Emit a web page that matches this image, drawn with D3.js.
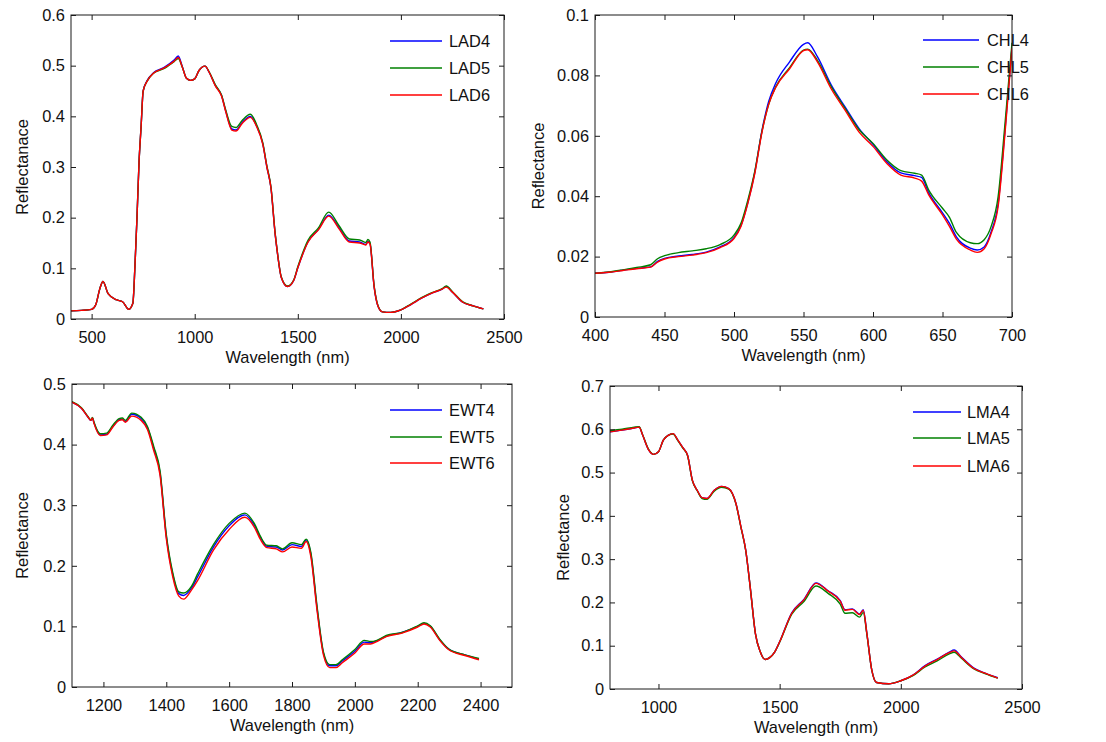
<!DOCTYPE html>
<html>
<head>
<meta charset="utf-8">
<script src="https://cdn.jsdelivr.net/npm/d3@7/dist/d3.min.js"></script>
<style>
  html, body { margin: 0; padding: 0; background: #fff; }
  svg { display: block; }
  text { font-family: "Liberation Sans", Arial, sans-serif; fill: #111; }
</style>
</head>
<body>
<svg id="chart" width="1106" height="742"></svg>
<script>
// ---------------- DATA ----------------
// Panel 1: LAD
const ladWl = [400,450,500,520,540,555,580,620,650,680,700,710,720,730,740,750,770,800,850,900,920,940,960,980,1000,1020,1050,1070,1100,1130,1150,1180,1200,1230,1270,1300,1330,1350,1370,1390,1400,1420,1450,1480,1500,1550,1600,1650,1700,1750,1800,1830,1840,1850,1870,1890,1910,1950,2000,2050,2100,2150,2200,2220,2250,2300,2350,2400];
const lad4 = [0.016,0.017,0.019,0.028,0.060,0.074,0.050,0.038,0.034,0.019,0.031,0.103,0.200,0.310,0.380,0.450,0.471,0.486,0.496,0.511,0.519,0.498,0.475,0.471,0.474,0.490,0.499,0.487,0.461,0.441,0.411,0.375,0.373,0.388,0.400,0.381,0.346,0.300,0.258,0.168,0.134,0.082,0.064,0.076,0.101,0.153,0.177,0.205,0.180,0.154,0.152,0.147,0.153,0.149,0.064,0.024,0.014,0.013,0.018,0.029,0.041,0.051,0.059,0.064,0.053,0.033,0.026,0.020];
const lad5 = [0.016,0.017,0.019,0.028,0.060,0.074,0.050,0.038,0.034,0.019,0.031,0.103,0.200,0.310,0.380,0.450,0.470,0.485,0.494,0.508,0.514,0.497,0.475,0.471,0.474,0.490,0.499,0.488,0.462,0.442,0.413,0.380,0.378,0.392,0.404,0.384,0.348,0.302,0.260,0.170,0.135,0.083,0.065,0.077,0.103,0.156,0.180,0.211,0.184,0.158,0.156,0.151,0.157,0.152,0.066,0.025,0.014,0.013,0.018,0.030,0.042,0.052,0.060,0.065,0.054,0.034,0.026,0.020];
const lad6 = [0.016,0.017,0.019,0.028,0.060,0.074,0.050,0.038,0.034,0.019,0.031,0.103,0.200,0.310,0.380,0.450,0.470,0.485,0.495,0.509,0.516,0.497,0.475,0.471,0.474,0.490,0.499,0.487,0.460,0.440,0.410,0.373,0.371,0.386,0.398,0.380,0.345,0.300,0.258,0.168,0.134,0.082,0.064,0.076,0.101,0.152,0.176,0.203,0.178,0.152,0.150,0.146,0.152,0.148,0.064,0.024,0.014,0.013,0.018,0.029,0.041,0.051,0.059,0.063,0.053,0.033,0.026,0.020];

// Panel 2: CHL
const chlWl = [400,410,420,430,440,445,450,460,470,480,490,500,505,510,515,520,525,530,540,550,553,560,570,580,590,600,610,620,630,635,640,650,655,660,670,675,680,685,690,695,700];
const chl4 = [0.0145,0.0148,0.0155,0.0161,0.0166,0.0184,0.0194,0.0202,0.0207,0.0215,0.0232,0.0263,0.0303,0.0380,0.0480,0.0615,0.0715,0.0774,0.0845,0.0903,0.0908,0.0862,0.0768,0.0695,0.0624,0.0572,0.0514,0.0477,0.0468,0.0462,0.0412,0.0345,0.0310,0.0265,0.0228,0.0222,0.0232,0.0282,0.0375,0.0620,0.0895];
const chl5 = [0.0145,0.0149,0.0156,0.0164,0.0173,0.0193,0.0203,0.0213,0.0219,0.0226,0.0240,0.0271,0.0310,0.0388,0.0484,0.0612,0.0705,0.0762,0.0826,0.0884,0.0887,0.0850,0.0762,0.0690,0.0620,0.0575,0.0520,0.0485,0.0476,0.0470,0.0421,0.0360,0.0330,0.0280,0.0246,0.0243,0.0256,0.0300,0.0398,0.0642,0.0908];
const chl6 = [0.0145,0.0148,0.0154,0.0160,0.0165,0.0182,0.0192,0.0200,0.0205,0.0213,0.0230,0.0260,0.0300,0.0377,0.0476,0.0609,0.0705,0.0760,0.0822,0.0882,0.0885,0.0845,0.0755,0.0684,0.0612,0.0565,0.0508,0.0470,0.0460,0.0450,0.0405,0.0338,0.0300,0.0258,0.0222,0.0214,0.0226,0.0276,0.0365,0.0610,0.0890];

// Panel 3: EWT
const ewtWl = [1100,1130,1150,1160,1165,1170,1190,1210,1230,1250,1260,1270,1290,1320,1340,1360,1380,1400,1420,1440,1455,1480,1500,1550,1600,1650,1680,1700,1720,1750,1770,1800,1830,1845,1860,1880,1900,1920,1940,1960,2000,2030,2050,2070,2100,2150,2200,2220,2240,2270,2300,2350,2395];
const ewt4 = [0.470,0.460,0.446,0.440,0.444,0.436,0.416,0.417,0.430,0.441,0.442,0.438,0.450,0.443,0.428,0.394,0.354,0.249,0.187,0.154,0.151,0.163,0.182,0.231,0.266,0.284,0.267,0.246,0.232,0.231,0.226,0.235,0.232,0.243,0.219,0.129,0.056,0.035,0.035,0.043,0.059,0.074,0.073,0.076,0.084,0.090,0.100,0.105,0.100,0.078,0.062,0.053,0.046];
const ewt5 = [0.471,0.461,0.447,0.441,0.445,0.437,0.418,0.419,0.432,0.443,0.444,0.440,0.452,0.445,0.430,0.397,0.357,0.252,0.190,0.157,0.155,0.166,0.187,0.235,0.270,0.287,0.270,0.248,0.234,0.233,0.228,0.238,0.235,0.244,0.222,0.132,0.058,0.037,0.037,0.045,0.062,0.077,0.075,0.077,0.085,0.090,0.101,0.106,0.101,0.079,0.062,0.053,0.047];
const ewt6 = [0.470,0.460,0.446,0.440,0.444,0.435,0.415,0.416,0.429,0.440,0.441,0.437,0.447,0.440,0.425,0.390,0.350,0.245,0.183,0.150,0.145,0.160,0.176,0.226,0.260,0.280,0.264,0.243,0.230,0.228,0.223,0.231,0.229,0.240,0.215,0.125,0.053,0.032,0.032,0.040,0.056,0.071,0.071,0.075,0.083,0.089,0.099,0.104,0.099,0.077,0.061,0.052,0.045];

// Panel 4: LMA
const lmaWl = [800,850,900,920,935,960,980,1000,1020,1040,1060,1080,1100,1120,1140,1160,1180,1200,1230,1260,1290,1320,1340,1360,1380,1400,1420,1440,1460,1480,1500,1550,1600,1650,1700,1750,1770,1800,1830,1845,1860,1880,1900,1950,2000,2050,2100,2150,2200,2220,2250,2300,2350,2400];
const lma4 = [0.594,0.598,0.603,0.605,0.586,0.552,0.542,0.548,0.575,0.586,0.590,0.575,0.558,0.540,0.482,0.459,0.442,0.440,0.459,0.468,0.463,0.428,0.375,0.321,0.228,0.128,0.086,0.068,0.073,0.086,0.109,0.176,0.207,0.245,0.227,0.204,0.183,0.185,0.173,0.183,0.128,0.044,0.015,0.012,0.019,0.032,0.054,0.069,0.085,0.090,0.074,0.049,0.036,0.026];
const lma5 = [0.597,0.600,0.605,0.606,0.587,0.553,0.542,0.548,0.575,0.586,0.589,0.574,0.557,0.539,0.481,0.458,0.440,0.438,0.457,0.466,0.462,0.427,0.374,0.320,0.228,0.128,0.086,0.068,0.073,0.086,0.108,0.173,0.202,0.238,0.221,0.196,0.175,0.176,0.166,0.177,0.126,0.044,0.015,0.012,0.019,0.031,0.051,0.065,0.081,0.085,0.071,0.047,0.035,0.025];
const lma6 = [0.594,0.598,0.603,0.605,0.586,0.552,0.542,0.548,0.575,0.586,0.590,0.575,0.558,0.540,0.482,0.459,0.442,0.440,0.459,0.468,0.463,0.428,0.375,0.321,0.228,0.128,0.086,0.068,0.073,0.086,0.109,0.175,0.206,0.244,0.226,0.203,0.182,0.184,0.172,0.182,0.128,0.044,0.015,0.012,0.019,0.032,0.053,0.068,0.084,0.088,0.073,0.048,0.036,0.025];

// Tick labels
const ladXTicks = [500,1000,1500,2000,2500];
const ladYTicks = ["0","0.1","0.2","0.3","0.4","0.5","0.6"];
const chlXTicks = [400,450,500,550,600,650,700];
const chlYTicks = ["0","0.02","0.04","0.06","0.08","0.1"];
const ewtXTicks = [1200,1400,1600,1800,2000,2200,2400];
const ewtYTicks = ["0","0.1","0.2","0.3","0.4","0.5"];
const lmaXTicks = [1000,1500,2000,2500];
const lmaYTicks = ["0","0.1","0.2","0.3","0.4","0.5","0.6","0.7"];

const seriesColors = ["#0000ff", "#008000", "#ff0000"];

// ---------------- LAYOUT ----------------
const panels = [
  { box: {l:71, r:504, t:15, b:319}, xDom:[400,2500], yDom:[0,0.6], wl: ladWl, series:[lad4,lad5,lad6], names:["LAD4","LAD5","LAD6"],
    xt: ladXTicks, yt: ladYTicks, ylabel:"Reflectanace", ylabX: 27.5, leg:{x1:390,x2:442,tx:449,ys:[41,68,95]} },
  { box: {l:595, r:1012, t:15, b:317}, xDom:[400,700], yDom:[0,0.1], wl: chlWl, series:[chl4,chl5,chl6], names:["CHL4","CHL5","CHL6"],
    xt: chlXTicks, yt: chlYTicks, ylabel:"Reflectance", ylabX: 544, leg:{x1:923,x2:979,tx:987,ys:[40,67,94]} },
  { box: {l:72, r:512, t:384, b:687}, xDom:[1100,2500], yDom:[0,0.5], wl: ewtWl, series:[ewt4,ewt5,ewt6], names:["EWT4","EWT5","EWT6"],
    xt: ewtXTicks, yt: ewtYTicks, ylabel:"Reflectance", ylabX: 27.5, leg:{x1:390,x2:442,tx:449,ys:[410,437,463]} },
  { box: {l:610, r:1022, t:386, b:689}, xDom:[800,2500], yDom:[0,0.7], wl: lmaWl, series:[lma4,lma5,lma6], names:["LMA4","LMA5","LMA6"],
    xt: lmaXTicks, yt: lmaYTicks, ylabel:"Reflectance", ylabX: 569, leg:{x1:913,x2:961,tx:967,ys:[412,438,466]} }
];

const svg = d3.select("#chart");
const axisColor = "#1a1a1a";
const tickLen = 5;
const fs = 16.4;

panels.forEach(p => {
  const B = p.box;
  const x = d3.scaleLinear().domain(p.xDom).range([B.l, B.r]);
  const y = d3.scaleLinear().domain(p.yDom).range([B.b, B.t]);
  const g = svg.append("g");
  const yVals = p.yt.map(Number);

  const clipId = "clip" + B.l + "_" + B.t;
  svg.append("clipPath").attr("id", clipId)
    .append("rect").attr("x", B.l).attr("y", B.t).attr("width", B.r - B.l).attr("height", B.b - B.t);

  // lines
  const line = d3.line().x(d => x(d[0])).y(d => y(d[1])).curve(d3.curveMonotoneX);
  p.series.forEach((s, i) => {
    g.append("path")
      .attr("d", line(p.wl.map((w, k) => [w, s[k]])))
      .attr("fill", "none")
      .attr("stroke", seriesColors[i])
      .attr("stroke-width", 1.4)
      .attr("clip-path", `url(#${clipId})`);
  });

  // axes with inward ticks
  const axB = d3.axisBottom(x).tickValues(p.xt).tickSizeInner(-tickLen).tickSizeOuter(0).tickPadding(12).tickFormat(d => String(d));
  const axT = d3.axisTop(x).tickValues(p.xt).tickSizeInner(-tickLen).tickSizeOuter(0).tickFormat("");
  const axL = d3.axisLeft(y).tickValues(yVals).tickSizeInner(-tickLen).tickSizeOuter(0).tickPadding(6).tickFormat((d, i) => p.yt[i]);
  const axR = d3.axisRight(y).tickValues(yVals).tickSizeInner(-tickLen).tickSizeOuter(0).tickFormat("");

  const gb = g.append("g").attr("transform", `translate(0,${B.b})`).call(axB);
  const gt = g.append("g").attr("transform", `translate(0,${B.t})`).call(axT);
  const gl = g.append("g").attr("transform", `translate(${B.l},0)`).call(axL);
  const gr = g.append("g").attr("transform", `translate(${B.r},0)`).call(axR);
  [gb, gt, gl, gr].forEach(a => {
    a.select(".domain").remove();
    a.selectAll(".tick line").attr("stroke", axisColor).attr("stroke-width", 1);
    a.selectAll(".tick text").attr("font-size", fs).attr("font-family", '"Liberation Sans", Arial, sans-serif').attr("fill", "#111");
  });

  // box
  g.append("rect").attr("x", B.l).attr("y", B.t).attr("width", B.r - B.l).attr("height", B.b - B.t)
    .attr("fill", "none").attr("stroke", axisColor).attr("stroke-width", 1);

  // axis labels
  g.append("text").attr("x", (B.l + B.r) / 2).attr("y", B.b + 44)
    .attr("text-anchor", "middle").attr("font-size", fs).text("Wavelength (nm)");
  g.append("text").attr("transform", `translate(${p.ylabX},${(B.t + B.b) / 2}) rotate(-90)`)
    .attr("text-anchor", "middle").attr("font-size", fs).text(p.ylabel);

  // legend
  p.names.forEach((n, i) => {
    const ly = p.leg.ys[i];
    g.append("line").attr("x1", p.leg.x1).attr("x2", p.leg.x2).attr("y1", ly).attr("y2", ly)
      .attr("stroke", seriesColors[i]).attr("stroke-width", 1.4);
    g.append("text").attr("x", p.leg.tx).attr("y", ly).attr("dy", "0.36em")
      .attr("font-size", fs).text(n);
  });
});
</script>
</body>
</html>
